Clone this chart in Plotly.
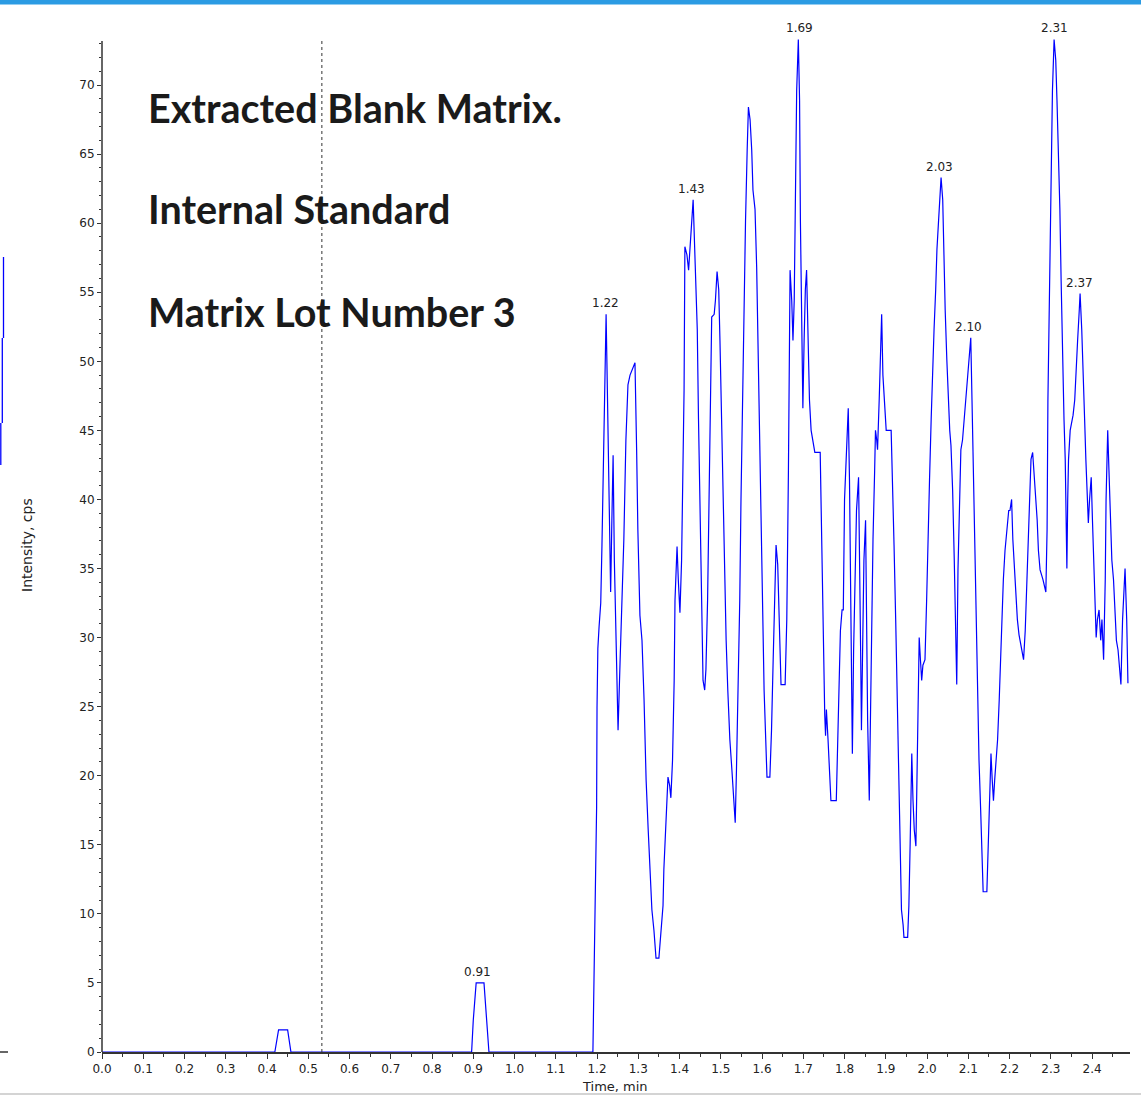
import plotly.graph_objects as go

# ---------------- data ----------------
time_min = [
    0.000, 0.419, 0.428, 0.450, 0.458, 0.896, 0.900, 0.907, 0.926, 0.932, 0.938, 1.190,
    1.192, 1.195, 1.199, 1.200, 1.202, 1.205, 1.209, 1.212, 1.216, 1.219, 1.222, 1.224,
    1.227, 1.230, 1.233, 1.236, 1.239, 1.242, 1.246, 1.251, 1.256, 1.261, 1.265, 1.270,
    1.275, 1.280, 1.287, 1.292, 1.296, 1.299, 1.304, 1.309, 1.314, 1.319, 1.324, 1.328,
    1.333, 1.338, 1.343, 1.350, 1.355, 1.360, 1.362, 1.367, 1.370, 1.372, 1.376, 1.379,
    1.383, 1.387, 1.389, 1.394, 1.397, 1.401, 1.405, 1.408, 1.411, 1.413, 1.418, 1.422,
    1.425, 1.428, 1.431, 1.433, 1.438, 1.443, 1.446, 1.450, 1.453, 1.457, 1.461, 1.464,
    1.468, 1.471, 1.474, 1.478, 1.484, 1.487, 1.491, 1.495, 1.498, 1.502, 1.505, 1.509,
    1.513, 1.517, 1.522, 1.527, 1.531, 1.535, 1.538, 1.542, 1.546, 1.549, 1.553, 1.556,
    1.560, 1.564, 1.567, 1.571, 1.575, 1.578, 1.583, 1.587, 1.590, 1.594, 1.598, 1.601,
    1.605, 1.609, 1.612, 1.619, 1.623, 1.627, 1.630, 1.634, 1.638, 1.641, 1.646, 1.656,
    1.660, 1.664, 1.666, 1.668, 1.672, 1.675, 1.678, 1.682, 1.684, 1.688, 1.691, 1.693,
    1.696, 1.699, 1.702, 1.705, 1.708, 1.711, 1.715, 1.719, 1.724, 1.728, 1.741, 1.743,
    1.746, 1.748, 1.752, 1.754, 1.756, 1.760, 1.764, 1.767, 1.780, 1.783, 1.787, 1.790,
    1.794, 1.797, 1.800, 1.804, 1.807, 1.809, 1.812, 1.815, 1.817, 1.819, 1.822, 1.826,
    1.829, 1.834, 1.837, 1.839, 1.841, 1.844, 1.847, 1.851, 1.853, 1.856, 1.860, 1.863,
    1.865, 1.869, 1.873, 1.875, 1.878, 1.880, 1.884, 1.887, 1.890, 1.893, 1.897, 1.901,
    1.913, 1.916, 1.920, 1.924, 1.927, 1.930, 1.933, 1.936, 1.938, 1.942, 1.944, 1.953,
    1.956, 1.959, 1.961, 1.963, 1.966, 1.969, 1.973, 1.976, 1.978, 1.981, 1.984, 1.987,
    1.990, 1.995, 1.999, 2.002, 2.006, 2.010, 2.013, 2.017, 2.021, 2.024, 2.028, 2.032,
    2.034, 2.038, 2.040, 2.044, 2.048, 2.051, 2.055, 2.058, 2.062, 2.066, 2.069, 2.072,
    2.075, 2.079, 2.082, 2.086, 2.090, 2.093, 2.097, 2.101, 2.106, 2.109, 2.112, 2.115,
    2.119, 2.123, 2.126, 2.130, 2.133, 2.136, 2.145, 2.149, 2.152, 2.155, 2.158, 2.161,
    2.164, 2.167, 2.171, 2.175, 2.178, 2.182, 2.185, 2.189, 2.193, 2.198, 2.201, 2.205,
    2.208, 2.212, 2.216, 2.219, 2.223, 2.228, 2.234, 2.238, 2.241, 2.245, 2.248, 2.252,
    2.256, 2.259, 2.263, 2.267, 2.270, 2.274, 2.278, 2.281, 2.288, 2.291, 2.293, 2.296,
    2.298, 2.301, 2.304, 2.308, 2.312, 2.315, 2.319, 2.322, 2.325, 2.328, 2.332, 2.335,
    2.337, 2.339, 2.341, 2.343, 2.347, 2.350, 2.354, 2.358, 2.361, 2.365, 2.369, 2.371,
    2.375, 2.378, 2.382, 2.385, 2.388, 2.391, 2.394, 2.398, 2.401, 2.405, 2.407, 2.410,
    2.413, 2.417, 2.421, 2.424, 2.428, 2.432, 2.434, 2.438, 2.441, 2.445, 2.448, 2.452,
    2.456, 2.459, 2.463, 2.467, 2.470, 2.474, 2.478, 2.480, 2.484, 2.487,
]

intensity_cps = [
    0.0, 0.0, 1.6, 1.6, 0.0, 0.0, 2.3, 5.0, 5.0, 2.3, 0.0, 0.0,
    3.8, 10.7, 17.7, 24.9, 29.2, 30.8, 32.5, 36.7, 43.4, 49.9, 53.4, 49.9,
    43.4, 38.5, 33.3, 38.5, 43.2, 35.6, 29.1, 23.3, 28.4, 32.7, 37.1, 44.3,
    48.3, 49.0, 49.5, 49.9, 43.6, 37.8, 31.6, 29.8, 25.5, 19.7, 16.1, 13.2,
    10.3, 8.8, 6.8, 6.8, 8.5, 10.6, 13.2, 16.1, 18.6, 19.9, 19.3, 18.4,
    21.1, 26.9, 32.7, 36.6, 34.2, 31.8, 35.6, 41.4, 47.9, 58.3, 57.7, 56.6,
    58.1, 59.1, 60.8, 61.7, 57.0, 52.3, 45.8, 38.5, 32.0, 26.9, 26.2, 27.7,
    32.7, 39.2, 46.5, 53.2, 53.4, 54.4, 56.5, 55.2, 51.5, 45.8, 40.0, 34.2,
    29.8, 26.2, 22.6, 20.4, 18.2, 16.6, 20.4, 26.2, 32.7, 40.0, 47.2, 54.4,
    60.2, 65.3, 68.4, 67.5, 65.3, 62.4, 61.0, 56.8, 51.5, 45.0, 38.5, 32.0,
    26.2, 22.6, 19.9, 19.9, 23.3, 28.4, 32.7, 36.7, 35.3, 31.3, 26.6, 26.6,
    31.3, 42.1, 51.5, 56.6, 54.4, 51.5, 54.4, 62.4, 69.6, 73.3, 68.9, 60.2,
    52.3, 46.6, 51.5, 55.2, 56.6, 52.3, 47.2, 45.0, 43.9, 43.4, 43.4, 40.0,
    34.9, 29.8, 24.4, 22.9, 24.8, 22.6, 20.4, 18.2, 18.2, 21.9, 25.5, 30.5,
    32.0, 32.0, 40.0, 43.6, 45.8, 46.6, 41.4, 31.3, 25.5, 21.6, 29.1, 35.6,
    39.2, 41.6, 35.6, 29.1, 23.3, 29.1, 35.6, 38.5, 31.3, 24.0, 18.2, 25.5,
    31.3, 37.1, 42.1, 45.0, 44.3, 43.6, 47.2, 51.5, 53.4, 49.0, 46.5, 45.0,
    45.0, 42.1, 36.7, 31.3, 26.2, 21.1, 16.1, 12.5, 10.3, 9.2, 8.3, 8.3,
    10.6, 15.0, 19.5, 21.6, 18.2, 16.1, 14.9, 21.1, 26.2, 30.0, 28.4, 26.9,
    28.0, 28.4, 32.7, 37.1, 41.4, 45.8, 49.4, 52.3, 55.2, 58.1, 60.2, 62.0,
    63.3, 61.7, 58.1, 53.7, 50.1, 47.2, 45.0, 43.9, 40.7, 35.6, 31.3, 26.6,
    34.9, 40.0, 43.6, 44.3, 45.8, 47.2, 48.6, 50.1, 51.7, 47.2, 42.9, 37.1,
    30.5, 25.5, 21.1, 17.5, 13.9, 11.6, 11.6, 16.1, 18.2, 21.6, 19.7, 18.2,
    19.7, 21.1, 22.6, 25.5, 28.4, 31.3, 34.2, 36.3, 37.8, 39.2, 39.2, 40.0,
    37.1, 34.9, 32.7, 31.3, 30.2, 29.5, 28.4, 30.5, 33.4, 37.1, 40.7, 42.9,
    43.4, 42.1, 40.7, 38.5, 36.3, 34.9, 34.5, 34.2, 33.3, 37.8, 47.2, 53.7,
    60.2, 66.7, 69.6, 73.3, 71.8, 68.9, 65.3, 61.0, 55.9, 50.1, 45.8, 42.9,
    38.5, 35.0, 40.0, 42.9, 45.0, 45.4, 46.1, 47.2, 49.4, 51.5, 53.7, 54.9,
    52.3, 48.6, 45.8, 42.9, 40.7, 38.3, 40.0, 41.6, 38.5, 34.9, 32.0, 30.0,
    31.3, 32.0, 29.8, 31.3, 28.4, 34.2, 40.0, 45.0, 42.1, 38.5, 35.6, 34.2,
    31.3, 29.8, 29.1, 27.7, 26.6, 31.3, 34.2, 35.0, 31.3, 26.7,
]

peak_times = [0.91, 1.22, 1.43, 1.69, 2.03, 2.10, 2.31, 2.37]
peak_heights = [5.0, 53.4, 61.7, 73.3, 63.3, 51.7, 73.3, 54.9]

x_ticks = [round(i * 0.1, 1) for i in range(25)]
y_ticks = list(range(0, 75, 5))

y_axis_top = 73.19       # where the drawn y-axis line ends
marker_time = 0.533
title_lines = ["Extracted Blank Matrix.", "Internal Standard", "Matrix Lot Number 3"]

# ---------------- figure ----------------
W, H = 1141, 1097
ML, MR, MT, MB = 102, 11, 35, 45
PW, PH = W - ML - MR, H - MT - MB
Y_TOP = PH / 13.814      # y range top so that the y scale matches the reference


def px_x(px):
    return (px - ML) / PW


def px_y(py):
    return (H - MB - py) / PH


AX = "#333333"
small_font = dict(family="DejaVu Sans, sans-serif", size=12, color="#222222")

fig = go.Figure()
fig.add_trace(go.Scatter(
    x=time_min, y=intensity_cps, mode="lines",
    line=dict(color="#0000ff", width=1.2),
    hoverinfo="skip", showlegend=False,
))

fig.update_layout(
    width=W, height=H,
    margin=dict(l=ML, r=MR, t=MT, b=MB, pad=0),
    paper_bgcolor="white", plot_bgcolor="white",
    showlegend=False,
    xaxis=dict(
        range=[0, 2.492], tickvals=x_ticks, ticktext=[f"{v:.1f}" for v in x_ticks],
        ticks="outside", ticklen=5, tickwidth=1, tickcolor=AX,
        showline=True, linecolor=AX, linewidth=1.5,
        showgrid=False, zeroline=False, tickfont=small_font,
        minor=dict(dtick=0.05, tick0=0, ticks="outside", ticklen=3, tickcolor=AX),
    ),
    yaxis=dict(
        range=[0, Y_TOP], tickvals=y_ticks,
        ticks="outside", ticklen=4, tickwidth=1, tickcolor=AX,
        showline=False,
        showgrid=False, zeroline=False, tickfont=small_font,
        minor=dict(tickvals=list(range(0, 74)), ticks="outside", ticklen=2, tickcolor=AX),
    ),
)

# y-axis line (ends slightly below the plot top, peaks overshoot it as in the reference)
fig.add_shape(type="line", xref="paper", yref="y", x0=0, x1=0, y0=0, y1=y_axis_top,
              line=dict(color=AX, width=1.5))

# dotted marker line
fig.add_shape(type="line", xref="x", yref="y", x0=marker_time, x1=marker_time,
              y0=0, y1=y_axis_top, line=dict(color=AX, width=1, dash="dot"))

# peak labels
for t, h in zip(peak_times, peak_heights):
    fig.add_annotation(x=t, y=h, xref="x", yref="y", text=f"{t:.2f}", showarrow=False,
                       yanchor="bottom", yshift=2, font=small_font)

# overlay title text
for line, py in zip(title_lines, [107, 208.5, 311.5]):
    fig.add_annotation(x=px_x(146), y=px_y(py), xref="paper", yref="paper", text=f"<b>{line}</b>",
                       showarrow=False, xanchor="left", yanchor="middle",
                       font=dict(family="Lato, sans-serif", size=39.5, color="#1a1a1a"))

# axis titles
fig.add_annotation(x=px_x(615), y=px_y(1086), xref="paper", yref="paper", text="Time, min",
                   showarrow=False, xanchor="center", yanchor="middle",
                   font=dict(family="DejaVu Sans, sans-serif", size=13, color="#222222"))
fig.add_annotation(x=px_x(27), y=px_y(545), xref="paper", yref="paper", text="Intensity, cps",
                   showarrow=False, textangle=-90, xanchor="center", yanchor="middle",
                   font=dict(family="DejaVu Sans, sans-serif", size=14, color="#222222"))

# page decorations (blue band on top, grey rule at bottom, fragments at left edge)
fig.add_shape(type="rect", xref="paper", yref="paper", x0=px_x(0), x1=px_x(W), y0=px_y(4.5), y1=px_y(0),
              line=dict(width=0), fillcolor="#2b9be3", layer="above")
fig.add_shape(type="line", xref="paper", yref="paper", x0=px_x(0), x1=px_x(W), y0=px_y(1094), y1=px_y(1094),
              line=dict(color="#d4d4d4", width=2))
fig.add_shape(type="line", xref="paper", yref="paper", x0=px_x(0), x1=px_x(8), y0=px_y(1052), y1=px_y(1052),
              line=dict(color=AX, width=1.5))
for x0, ya, yb in [(3.5, 257, 338), (2.3, 338, 423), (0.8, 423, 465)]:
    fig.add_shape(type="line", xref="paper", yref="paper", x0=px_x(x0), x1=px_x(x0), y0=px_y(ya), y1=px_y(yb),
                  line=dict(color="#0000ff", width=1.3))

fig.write_html("out.html", config={"displayModeBar": False},
               post_script="document.body.style.margin='0px';")
